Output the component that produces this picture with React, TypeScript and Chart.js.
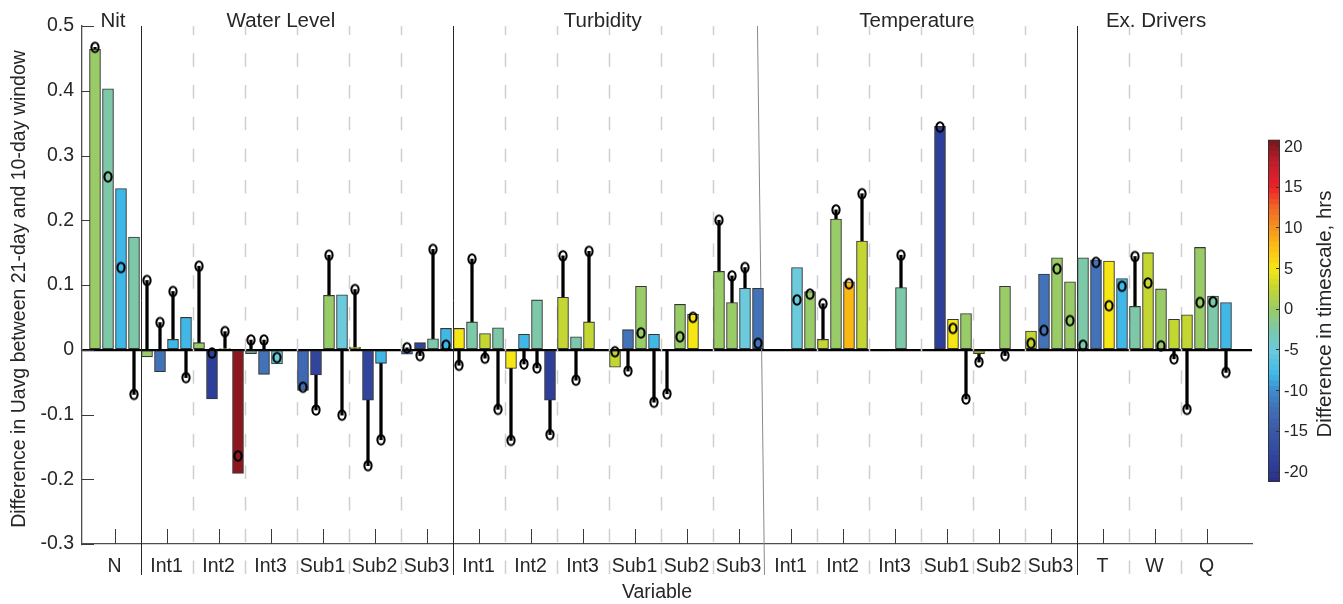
import React, { useEffect, useRef } from 'react';
import { Chart, registerables } from 'chart.js';

Chart.register(...registerables);

// ---------------- data ----------------
const categories = [
  'N', 'Int1', 'Int2', 'Int3', 'Sub1', 'Sub2', 'Sub3',
  'Int1', 'Int2', 'Int3', 'Sub1', 'Sub2', 'Sub3',
  'Int1', 'Int2', 'Int3', 'Sub1', 'Sub2', 'Sub3',
  'T', 'W', 'Q',
];

// Difference in Uavg (bars), 4 bars per variable, null = no bar
const barValues: (number | null)[][] = [
  [0.464, 0.403, 0.249, 0.174],
  [-0.011, -0.034, 0.016, 0.05],
  [0.011, -0.076, 0.002, -0.191],
  [-0.006, -0.038, -0.022, null],
  [-0.063, -0.039, 0.084, 0.085],
  [0.004, -0.078, -0.021, null],
  [-0.007, 0.011, 0.017, 0.033],
  [0.033, 0.043, 0.025, 0.034],
  [-0.029, 0.024, 0.077, -0.078],
  [0.081, 0.02, 0.043, null],
  [-0.027, 0.031, 0.098, 0.024],
  [null, 0.07, 0.055, null],
  [0.121, 0.073, 0.095, 0.095],
  [null, null, 0.127, 0.09],
  [0.016, 0.202, 0.105, 0.168],
  [null, null, 0.096, null],
  [null, 0.345, 0.047, 0.056],
  [-0.006, null, 0.098, null],
  [0.029, 0.117, 0.142, 0.105],
  [0.142, 0.139, 0.137, 0.11],
  [0.067, 0.15, 0.094, 0.047],
  [0.054, 0.158, 0.083, 0.073],
];

// Second estimate (stem + circle), same layout
const stemValues: (number | null)[][] = [
  [0.467, 0.267, 0.127, -0.069],
  [0.107, 0.042, 0.09, -0.043],
  [0.129, -0.005, 0.028, -0.164],
  [0.015, 0.015, -0.012, null],
  [-0.058, -0.093, 0.146, -0.101],
  [0.093, -0.179, -0.139, null],
  [0.003, -0.009, 0.155, 0.007],
  [-0.024, 0.14, -0.013, -0.092],
  [-0.14, -0.022, -0.028, -0.131],
  [0.145, -0.047, 0.152, null],
  [-0.003, -0.033, 0.026, -0.081],
  [-0.068, 0.02, 0.05, null],
  [0.2, 0.114, 0.127, 0.01],
  [null, null, 0.077, 0.086],
  [0.071, 0.216, 0.102, 0.241],
  [null, null, 0.146, null],
  [null, 0.344, 0.033, -0.076],
  [-0.019, null, -0.009, null],
  [0.01, 0.03, 0.125, 0.045],
  [0.007, 0.135, 0.068, 0.098],
  [0.144, 0.103, 0.006, -0.014],
  [-0.092, 0.073, 0.074, -0.035],
];

// Difference in timescale (hrs) -> bar colour
const timescaleValues: (number | null)[][] = [
  [0, -2.5, -8, -2.5],
  [0, -12, -8, -8],
  [0, -19, 0, 20],
  [-2.5, -12, -5, null],
  [-13, -18, 0, -5],
  [5, -18, -8, null],
  [-12, -18, -2.5, -8],
  [5, -2.5, 2.5, -2.5],
  [5, -8, -2.5, -19],
  [2.5, -2.5, 2.5, null],
  [2.5, -12, 0, -8],
  [null, 0, 5, null],
  [0, 0, -5, -12],
  [null, null, -5, 0],
  [2.5, 0, 8, 2.5],
  [null, null, -2.5, null],
  [null, -19, 5, 0],
  [2.5, null, 0, null],
  [2.5, -12, 0, 0],
  [-2.5, -12, 5, -8],
  [-2.5, 2.5, 0, 2.5],
  [2.5, 0, -2.5, -8],
];

const sectionTitles = ['Nit', 'Water Level', 'Turbidity', 'Temperature', 'Ex. Drivers'];
const sectionTitleAt = [0.97, 4.2, 10.39, 16.43, 21.03];
const sectionBreaks = [1.5, 7.5, 19.5];
const yTickValues = [-0.3, -0.2, -0.1, 0, 0.1, 0.2, 0.3, 0.4, 0.5];
const yTickLabels = ['-0.3', '-0.2', '-0.1', '0', '0.1', '0.2', '0.3', '0.4', '0.5'];
const colorbarTicks = [-20, -15, -10, -5, 0, 5, 10, 15, 20];
const colorbarRange = [-21.25, 20.75];

// ---------------- style ----------------
const FONT = '"Liberation Sans", Arial, Helvetica, sans-serif';
const TEXT = '#262626';

const cmapStops: [number, string][] = [
  [-21.25, '#2a2f85'], [-19, '#2e3f99'], [-15, '#3a58a8'], [-12, '#4272b8'],
  [-10, '#3d8dd0'], [-8, '#3fb8e8'], [-5, '#6bcbdc'], [-2.5, '#7cc8a8'],
  [0, '#99cc66'], [2.5, '#c4d631'], [5, '#f5e614'], [8, '#fbb814'],
  [10, '#f6921e'], [12.5, '#f26524'], [15, '#ec2027'], [18, '#be1e2d'], [20.75, '#7b1518'],
];

function hexToRgb(h: string) {
  return [parseInt(h.slice(1, 3), 16), parseInt(h.slice(3, 5), 16), parseInt(h.slice(5, 7), 16)];
}

function colormap(v: number) {
  const s = cmapStops;
  if (v <= s[0][0]) return s[0][1];
  if (v >= s[s.length - 1][0]) return s[s.length - 1][1];
  for (let i = 0; i < s.length - 1; i++) {
    const [a, ca] = s[i];
    const [b, cb] = s[i + 1];
    if (v >= a && v <= b) {
      const t = (v - a) / (b - a);
      const A = hexToRgb(ca);
      const B = hexToRgb(cb);
      const c = A.map((x, k) => Math.round(x + (B[k] - x) * t));
      return `rgb(${c[0]},${c[1]},${c[2]})`;
    }
  }
  return s[0][1];
}

function makeRing() {
  const c = document.createElement('canvas');
  c.width = 12;
  c.height = 14;
  const g = c.getContext('2d')!;
  g.strokeStyle = '#000';
  g.lineWidth = 2.1;
  g.beginPath();
  g.ellipse(6, 7, 3.6, 4.7, 0, 0, Math.PI * 2);
  g.stroke();
  return c;
}

const barX = (g: number, j: number) => g + 1 + (j - 1.5) * 0.25;

const decorPlugin = {
  id: 'decor',
  beforeDatasetsDraw(chart: any) {
    const { ctx, chartArea: ca, scales } = chart;
    const x = scales.x;
    const y = scales.y;
    const lowY = 575;
    ctx.save();
    // dashed group separators
    ctx.strokeStyle = '#cfcfcf';
    ctx.lineWidth = 1.5;
    ctx.setLineDash([13.5, 18.2]);
    ctx.lineDashOffset = 4.4;
    for (let k = 1; k < categories.length; k++) {
      const v = k + 0.5;
      if (sectionBreaks.includes(v) || v === 13.5) continue;
      const px = Math.round(x.getPixelForValue(v)) + 0.5;
      ctx.beginPath();
      ctx.moveTo(px, ca.top);
      ctx.lineTo(px, lowY);
      ctx.stroke();
    }
    ctx.setLineDash([]);
    // solid section separators
    ctx.strokeStyle = '#262626';
    ctx.lineWidth = 1;
    sectionBreaks.forEach((v) => {
      const px = Math.round(x.getPixelForValue(v)) + 0.5;
      ctx.beginPath();
      ctx.moveTo(px, ca.top);
      ctx.lineTo(px, lowY);
      ctx.stroke();
    });
    // slanted separator (turbidity / temperature)
    ctx.strokeStyle = '#8a8a8a';
    ctx.beginPath();
    ctx.moveTo(x.getPixelForValue(13.365), ca.top);
    ctx.lineTo(x.getPixelForValue(13.5), lowY);
    ctx.stroke();
    // inward ticks
    ctx.strokeStyle = '#3a3a3a';
    ctx.lineWidth = 1;
    yTickValues.forEach((v) => {
      const py = Math.round(y.getPixelForValue(v)) + 0.5;
      ctx.beginPath();
      ctx.moveTo(ca.left, py);
      ctx.lineTo(ca.left + 12, py);
      ctx.stroke();
    });
    categories.forEach((_, i) => {
      const px = Math.round(x.getPixelForValue(i + 1)) + 0.5;
      ctx.beginPath();
      ctx.moveTo(px, ca.bottom);
      ctx.lineTo(px, ca.bottom - 15);
      ctx.stroke();
    });
    ctx.restore();
  },
  afterDraw(chart: any) {
    const { ctx, chartArea: ca, scales } = chart;
    const x = scales.x;
    ctx.save();
    ctx.fillStyle = TEXT;
    // section titles
    ctx.font = `20.5px ${FONT}`;
    ctx.textAlign = 'center';
    ctx.textBaseline = 'alphabetic';
    sectionTitles.forEach((t, i) => {
      ctx.fillText(t, x.getPixelForValue(sectionTitleAt[i]), 26.5);
    });
    // x title
    ctx.font = `19.5px ${FONT}`;
    ctx.textBaseline = 'middle';
    ctx.fillText('Variable', 657, 593);
    // y title
    ctx.save();
    ctx.translate(20, (ca.top + ca.bottom) / 2 + 4);
    ctx.rotate(-Math.PI / 2);
    ctx.fillText('Difference in Uavg between 21-day and 10-day window', 0, 0);
    ctx.restore();

    // colorbar
    const L = 1268, R = 1280, T = 140, B = 481.7;
    const [cmin, cmax] = colorbarRange;
    const n = 64;
    const h = (B - T) / n;
    for (let i = 0; i < n; i++) {
      const v = cmin + ((i + 0.5) / n) * (cmax - cmin);
      ctx.fillStyle = colormap(v);
      ctx.fillRect(L, B - (i + 1) * h - 0.3, R - L, h + 0.6);
    }
    ctx.strokeStyle = '#333';
    ctx.lineWidth = 1;
    ctx.strokeRect(L + 0.5, T + 0.5, R - L - 1, B - T - 1);
    ctx.fillStyle = TEXT;
    ctx.font = `16.5px ${FONT}`;
    ctx.textAlign = 'left';
    ctx.textBaseline = 'middle';
    colorbarTicks.forEach((v) => {
      const py = B - ((v - cmin) / (cmax - cmin)) * (B - T);
      ctx.beginPath();
      ctx.moveTo(R, Math.round(py) + 0.5);
      ctx.lineTo(R - 4, Math.round(py) + 0.5);
      ctx.stroke();
      ctx.fillText(String(v), 1284, py + 1);
    });
    ctx.font = `20.5px ${FONT}`;
    ctx.textAlign = 'center';
    ctx.save();
    ctx.translate(1325, 314);
    ctx.rotate(-Math.PI / 2);
    ctx.fillText('Difference in timescale, hrs', 0, 0);
    ctx.restore();
    ctx.restore();
  },
};

export default function App() {
  const ref = useRef<HTMLCanvasElement | null>(null);

  useEffect(() => {
    document.body.style.margin = '0';
    const canvas = ref.current;
    if (!canvas) return;

    const bars: any[] = [];
    const barColors: string[] = [];
    const stems: any[] = [];
    const circles: any[] = [];
    categories.forEach((_, g) => {
      for (let j = 0; j < 4; j++) {
        const xv = barX(g, j);
        const b = barValues[g][j];
        if (b !== null) {
          bars.push({ x: xv, y: b });
          barColors.push(colormap(timescaleValues[g][j] ?? 0));
        }
        const s = stemValues[g][j];
        if (s !== null) {
          stems.push({ x: xv, y: [0, s] });
          circles.push({ x: xv, y: s });
        }
      }
    });

    const ring = makeRing();

    const chart = new Chart(canvas, {
      type: 'bar',
      data: {
        datasets: [
          {
            type: 'line',
            data: circles,
            showLine: false,
            pointStyle: ring as any,
            pointRadius: 5,
            order: 0,
          } as any,
          {
            type: 'bar',
            data: bars,
            backgroundColor: barColors,
            borderColor: '#353535',
            borderWidth: 1.1,
            borderSkipped: false,
            barThickness: 11,
            grouped: false,
            order: 1,
          } as any,
          {
            type: 'bar',
            data: stems,
            backgroundColor: '#000',
            borderWidth: 0,
            barThickness: 2.6,
            grouped: false,
            order: 2,
          } as any,
        ],
      },
      options: {
        animation: false,
        responsive: false,
        events: [],
        layout: { padding: { top: 26, right: 91, left: 0, bottom: 0 } },
        plugins: { legend: { display: false }, tooltip: { enabled: false } },
        scales: {
          x: {
            type: 'linear',
            offset: false,
            min: 0.375,
            max: 22.875,
            afterBuildTicks: (s: any) => {
              s.ticks = categories.map((_, i) => ({ value: i + 1 }));
            },
            afterFit: (s: any) => {
              s.height = 60;
            },
            grid: { display: false, drawTicks: false, offset: false },
            border: { display: true, color: '#4d4d4d', width: 1.3 },
            ticks: {
              autoSkip: false,
              maxRotation: 0,
              minRotation: 0,
              padding: 11,
              color: TEXT,
              font: { family: FONT, size: 19.5 },
              callback: (_v: any, i: number) => categories[i],
            },
          },
          y: {
            type: 'linear',
            min: -0.3,
            max: 0.5,
            afterBuildTicks: (s: any) => {
              s.ticks = yTickValues.map((v) => ({ value: v }));
            },
            afterFit: (s: any) => {
              s.width = 82;
            },
            grid: {
              drawTicks: false,
              color: (c: any) => (c.tick && c.tick.value === 0 ? '#000' : 'rgba(0,0,0,0)'),
              lineWidth: 2.2,
            },
            border: { display: true, color: '#4d4d4d', width: 1.3 },
            ticks: {
              padding: 8,
              color: TEXT,
              font: { family: FONT, size: 19.5 },
              callback: (_v: any, i: number) => yTickLabels[i],
            },
          },
        },
      } as any,
      plugins: [decorPlugin],
    });

    return () => chart.destroy();
  }, []);

  return (
    <div style={{ width: 1343, height: 604, position: 'relative', background: '#fff' }}>
      <canvas ref={ref} width={1343} height={604} />
    </div>
  );
}
